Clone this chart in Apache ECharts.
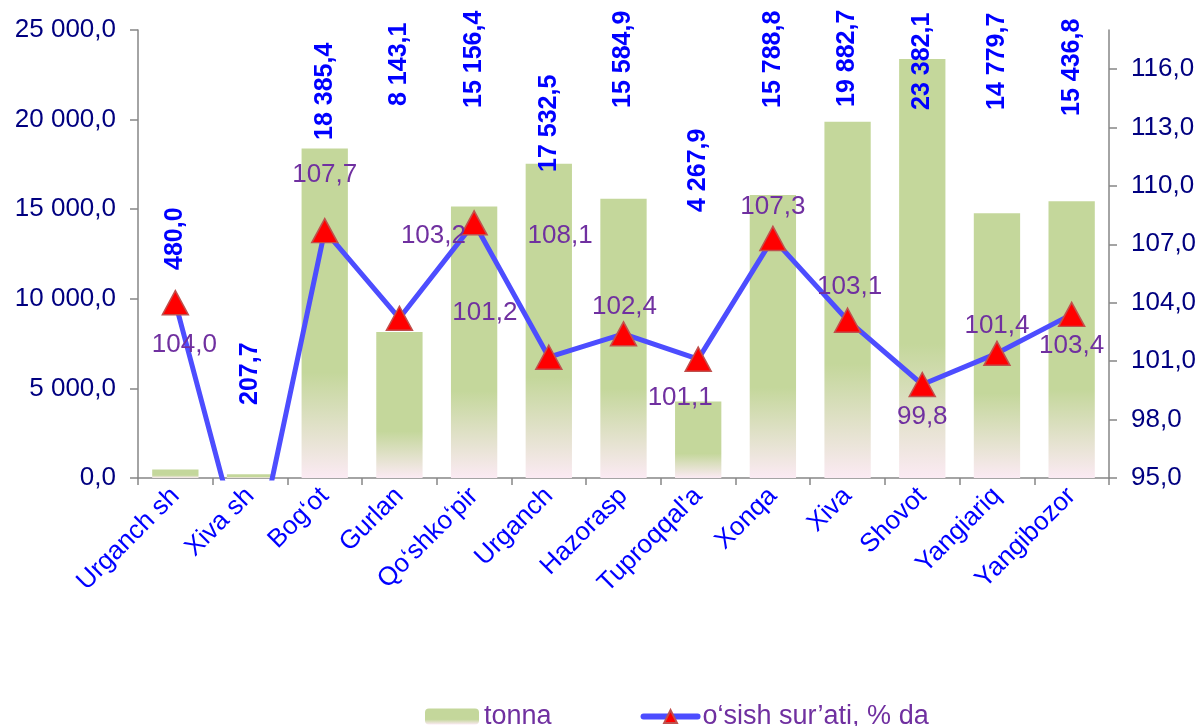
<!DOCTYPE html>
<html>
<head>
<meta charset="utf-8">
<script src="https://cdn.jsdelivr.net/npm/echarts@6/dist/echarts.min.js"></script>
<style>
html,body{margin:0;padding:0;background:#fff;}
#chart{width:1201px;height:726px;}
</style>
</head>
<body>
<div id="chart"></div>
<script>
var categories = ['Urganch sh', 'Xiva sh', 'Bog‘ot', 'Gurlan', 'Qo‘shko‘pir', 'Urganch', 'Hazorasp', "Tuproqqal'a", 'Xonqa', 'Xiva', 'Shovot', 'Yangiariq', 'Yangibozor'];
var tonna = [480.0, 207.7, 18385.4, 8143.1, 15156.4, 17532.5, 15584.9, 4267.9, 15788.8, 19882.7, 23382.1, 14779.7, 15436.8];
var growth = [104.0, 89.6, 107.7, 103.2, 108.1, 101.2, 102.4, 101.1, 107.3, 103.1, 99.8, 101.4, 103.4];
var leftTicks = [0, 5000, 10000, 15000, 20000, 25000];
var rightTicks = [95, 98, 101, 104, 107, 110, 113, 116];

// label placement (style only): offsets of growth labels from their points
var growthLabelOffset = [[9,42],null,[0,-56],[34,-82],[86,13],[-64,-44],[1,-27],[-18,39],[0,-32],[2,-33],[0,32],[0,-28],[0,31]];
// label placement (style only): start line (pixels below the plot top) of each rotated tonnage label
var tonnaLabelStart = [240, 375, 110, 76, 78, 142, 78, 182, 78, 77, 80, 80, 86];

function fmt(v) {
  var s = Number(v).toFixed(1);
  var parts = s.split('.');
  var intPart = parts[0].replace(/\B(?=(\d{3})+(?!\d))/g, ' ');
  return intPart + ',' + parts[1];
}

var FONT = 'Liberation Sans, Arial, sans-serif';
var GRID_TOP = 30;

var chart = echarts.init(document.getElementById('chart'), null, {renderer: 'canvas'});

var growthData = growth.map(function (v, i) {
  var off = growthLabelOffset[i];
  if (!off) {
    return { value: v, label: { show: false } };
  }
  return { value: v, label: { show: true, position: 'inside', offset: off } };
});

var option = {
  backgroundColor: '#ffffff',
  animation: false,
  textStyle: { fontFamily: FONT },
  grid: { left: 138, right: 92, top: GRID_TOP, bottom: 248 },
  legend: {
    left: 420,
    top: 698,
    itemWidth: 54,
    itemHeight: 16,
    itemGap: 89,
    textStyle: { color: '#7030a0', fontSize: 27, fontFamily: FONT },
    data: [
      { name: 'tonna' },
      { name: 'o‘sish sur’ati, % da', lineStyle: { width: 6, cap: 'round', color: '#4d4dff' } }
    ]
  },
  xAxis: {
    type: 'category',
    data: categories,
    boundaryGap: true,
    axisLine: { show: true, lineStyle: { color: '#868686', width: 1.5 } },
    axisTick: { show: true, interval: 0, length: 7, lineStyle: { color: '#868686', width: 1.5 } },
    axisLabel: { interval: 0, rotate: 45, color: '#0000ff', fontSize: 26, fontFamily: FONT, margin: 14 },
    splitLine: { show: false }
  },
  yAxis: [
    {
      type: 'value',
      min: 0,
      max: 25000,
      interval: 5000,
      axisLine: { show: true, lineStyle: { color: '#868686', width: 1.5 } },
      axisTick: { show: true, length: 8, lineStyle: { color: '#868686', width: 1.5 }, customValues: leftTicks },
      axisLabel: { color: '#000080', fontSize: 26, fontFamily: FONT, margin: 22, formatter: function (v) { return fmt(v); }, customValues: leftTicks },
      splitLine: { show: false }
    },
    {
      type: 'value',
      min: 95,
      max: 118,
      position: 'right',
      axisLine: { show: true, lineStyle: { color: '#868686', width: 1.5 } },
      axisTick: { show: true, length: 8, lineStyle: { color: '#868686', width: 1.5 }, customValues: rightTicks },
      axisLabel: { color: '#000080', fontSize: 26, fontFamily: FONT, margin: 22, formatter: function (v) { return fmt(v); }, customValues: rightTicks },
      splitLine: { show: false }
    }
  ],
  series: [
    {
      name: 'tonna',
      type: 'bar',
      yAxisIndex: 0,
      data: tonna,
      barCategoryGap: '38%',
      itemStyle: {
        color: new echarts.graphic.LinearGradient(0, 0, 0, 1, [
          { offset: 0, color: '#c4d79b' },
          { offset: 0.68, color: '#c4d79b' },
          { offset: 1, color: '#fbeaf3' }
        ])
      },
      label: {
        show: true,
        position: 'top',
        rotate: 90,
        align: 'left',
        verticalAlign: 'middle',
        color: '#0000ff',
        fontWeight: 'bold',
        fontSize: 25,
        fontFamily: FONT,
        formatter: function (p) { return fmt(p.value); }
      },
      labelLayout: function (p) {
        return { y: GRID_TOP + tonnaLabelStart[p.dataIndex] };
      },
      z: 1
    },
    {
      name: 'o‘sish sur’ati, % da',
      type: 'line',
      yAxisIndex: 1,
      data: growthData,
      clip: true,
      symbol: 'triangle',
      symbolSize: [26, 24],
      lineStyle: { color: '#4d4dff', width: 5 },
      itemStyle: { color: '#ff0000', borderColor: '#c0504d', borderWidth: 1.5 },
      label: {
        show: true,
        color: '#7030a0',
        fontSize: 26,
        fontFamily: FONT,
        formatter: function (p) { return fmt(p.value); }
      },
      z: 3
    }
  ]
};

chart.setOption(option);
</script>
</body>
</html>
